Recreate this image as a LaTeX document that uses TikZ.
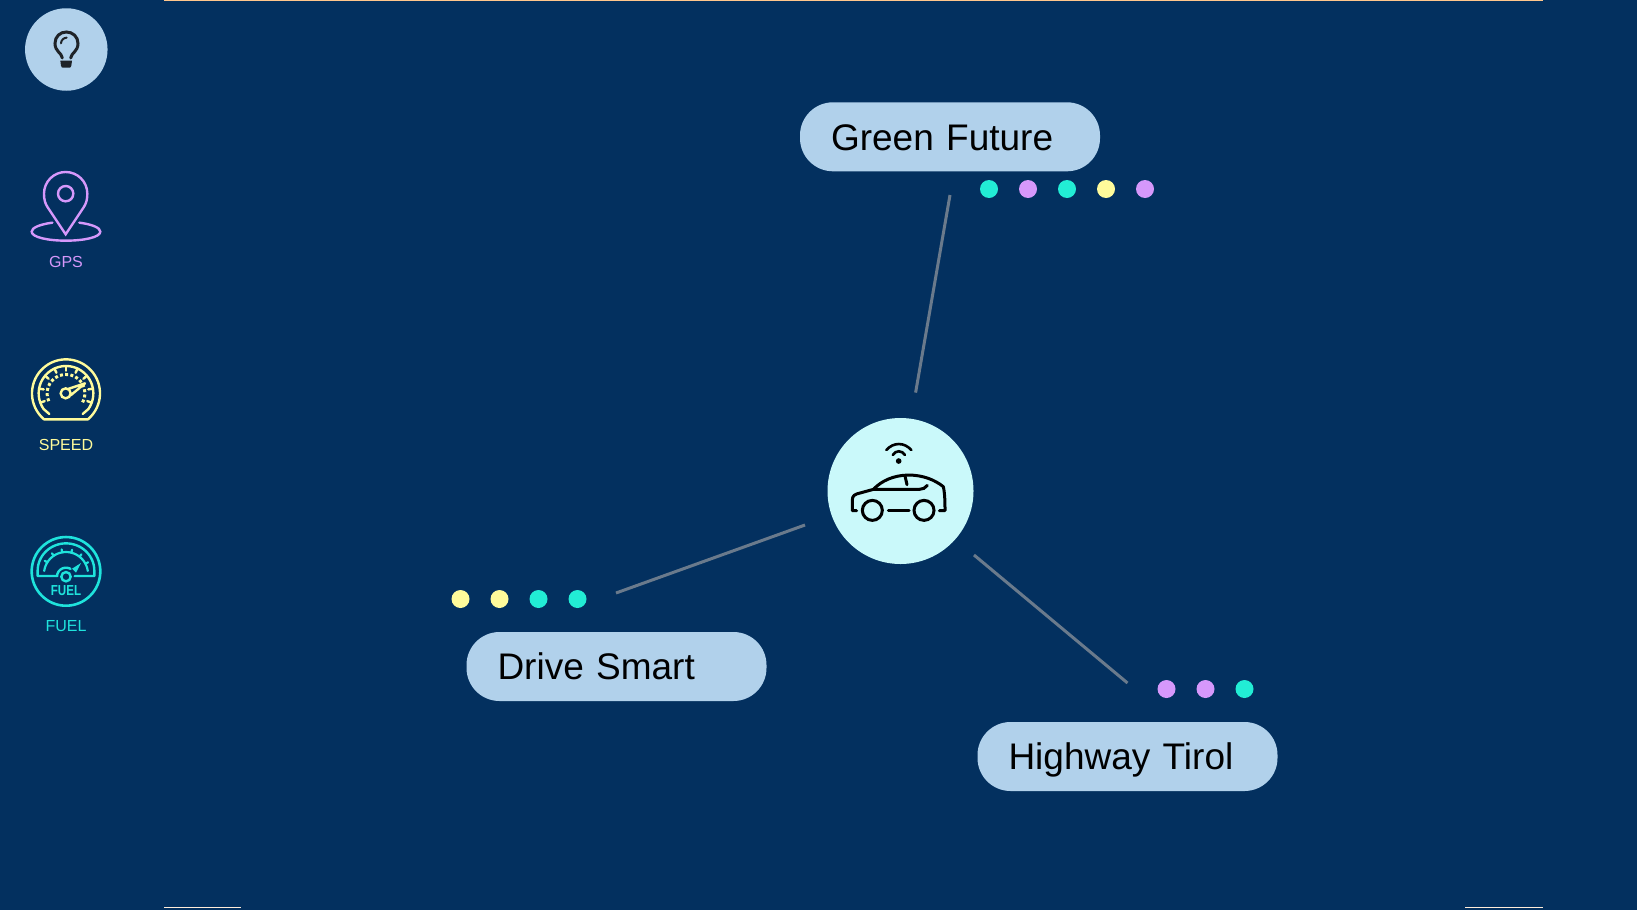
\documentclass[tikz,border=0pt]{standalone}
\usepackage{fontspec}
\setmainfont{Liberation Sans}
\definecolor{bgc}{HTML}{03305F}
\definecolor{pillc}{HTML}{B1D1EB}
\definecolor{hubc}{HTML}{CAF9FA}
\definecolor{tealc}{HTML}{22EDD5}
\definecolor{purpc}{HTML}{D698FB}
\definecolor{yelc}{HTML}{FFFB9B}
\definecolor{linkc}{HTML}{6A7A8C}
\definecolor{bulbc}{HTML}{1F2328}
\definecolor{fuelc}{HTML}{1FE3DC}
\tikzset{
 pill/.style={fill=pillc,rounded corners=33pt,minimum height=69pt,text width=238pt,text height=30pt,text depth=3.6pt,inner xsep=31pt,inner ysep=0pt,align=left,text=black,font=\fontsize{37}{44}\selectfont},
 dot/.style={circle,inner sep=0pt,minimum size=18pt},
 link/.style={draw=linkc,line width=3pt},
 iconlabel/.style={font=\fontsize{16}{19}\selectfont,inner sep=0pt},
 frameline/.style={line width=1pt},
}
\begin{document}
\begin{tikzpicture}[x=1pt,y=-1pt]
\fill[bgc] (0,0) rectangle (1637,910);
\useasboundingbox (0,0) rectangle (1637,910);
% frame lines
\coordinate (tl) at (164,0.6); \coordinate (tr) at (1543,0.6);
\coordinate (bl1) at (164,907.6); \coordinate (bl2) at (241,907.6);
\coordinate (br1) at (1465,907.6); \coordinate (br2) at (1543,907.6);
\draw[frameline,draw=orange!45!white] (tl) -- (tr);
\draw[frameline,draw=white!85!orange] (bl1) -- (bl2);
\draw[frameline,draw=white!85!orange] (br1) -- (br2);
% hub and pills
\node[circle,fill=hubc,minimum size=146pt,inner sep=0pt] (hub) at (900.5,491) {};
\node[pill] (green) at (950,136.8) {Green Future};
\node[pill] (drive) at (616.5,666.5) {Drive Smart};
\node[pill] (highway) at (1127.5,756.5) {Highway Tirol};
% connectors
\coordinate (g1) at (950,195); \coordinate (g2) at (915.6,392.6);
\coordinate (d1) at (805,525); \coordinate (d2) at (616,593);
\coordinate (h1) at (974,555); \coordinate (h2) at (1127.5,683);
\draw[link] (g1) -- (g2);
\draw[link] (d1) -- (d2);
\draw[link] (h1) -- (h2);
% dots
\node[dot,fill=tealc] (ga) at (989,189) {};
\node[dot,fill=purpc] (gb) at (1028,189) {};
\node[dot,fill=tealc] (gc) at (1067,189) {};
\node[dot,fill=yelc] (gd) at (1106,189) {};
\node[dot,fill=purpc] (ge) at (1145,189) {};
\node[dot,fill=yelc] (da) at (460.5,599) {};
\node[dot,fill=yelc] (db) at (499.5,599) {};
\node[dot,fill=tealc] (dc) at (538.5,599) {};
\node[dot,fill=tealc] (dd) at (577.5,599) {};
\node[dot,fill=purpc] (ha) at (1166.5,689) {};
\node[dot,fill=purpc] (hb) at (1205.5,689) {};
\node[dot,fill=tealc] (hc) at (1244.5,689) {};
% car icon
\begin{scope}[shift={(810pt,-400.7pt)},x=.33333pt,y=-.33333pt]
\draw[line width=3pt,line cap=round,line join=round,draw=black]
 (140,330) -- (127,330) -- (127,297) .. controls (127,285) and (135,280) .. (150,277) -- (190,266)
 .. controls (215,240) and (250,224) .. (295,223) .. controls (340,223) and (375,238) .. (400,258)
 .. controls (405,280) and (405,310) .. (405,330) -- (388,330);
\draw[line width=3pt,line cap=round,draw=black] (190,266) -- (328,266) .. controls (338,266) and (346,262) .. (352,254);
\draw[line width=3pt,line cap=round,draw=black] (285,226) -- (291,252);
\draw[line width=3pt,draw=black] (187,329) circle (30);
\draw[line width=3pt,draw=black] (342,329) circle (30);
\draw[line width=3pt,line cap=round,draw=black] (235,329) -- (297,329);
\fill[black] (266,181) circle (8.5);
\draw[line width=2.6pt,line cap=round,draw=black] (248,163) .. controls (258,148) and (275,148) .. (285,163);
\draw[line width=2.6pt,line cap=round,draw=black] (229,148) .. controls (250,124) and (283,124) .. (304,148);
\end{scope}
% bulb icon
\node[circle,fill=pillc,minimum size=82.5pt,inner sep=0pt] (bulbbg) at (66.3,49.5) {};
\begin{scope}[x=.33333pt,y=.33333pt,yscale=-1]
\draw[bulbc,line width=3pt,line cap=round]
 (187,174) .. controls (185,158) and (165,155) .. (165,130) .. controls (165,110) and (180,96) .. (199,96)
 .. controls (218,96) and (234,110) .. (234,130) .. controls (234,155) and (214,158) .. (212,174);
\draw[bulbc,line width=2pt,line cap=round] (183,130) .. controls (184,120) and (190,114) .. (200,113);
\fill[bulbc] (181,182) -- (216,182) -- (214,197) .. controls (213,202) and (211,203) .. (208,203) -- (189,203) .. controls (186,203) and (184,202) .. (183,197) -- cycle;
\end{scope}
% pin icon
\begin{scope}[x=.33333pt,y=.33333pt,yscale=-1]
\draw[purpc,line width=2.4pt,line join=miter]
 (197,703) -- (143,622) .. controls (135,610) and (132,598) .. (132,581)
 .. controls (132,545) and (161,516) .. (197,516) .. controls (233,516) and (262,545) .. (262,581)
 .. controls (262,598) and (259,610) .. (251,622) -- cycle;
\draw[purpc,line width=2.4pt] (197,581) circle (23);
\draw[purpc,line width=2.4pt,line cap=round] (157,668) .. controls (120,673) and (95,683) .. (95,695) .. controls (95,712) and (145,722) .. (198,722) .. controls (251,722) and (301,712) .. (301,695) .. controls (301,683) and (276,673) .. (238,668);
\end{scope}
\node[iconlabel,text=purpc] (gps) at (66,262) {GPS};
% speed icon
\begin{scope}[shift={(0pt,-340pt)},x=.33333pt,y=-.33333pt]
\draw[yelc,line width=2.4pt,line join=round,line cap=round]
 (264,238) -- (132,238) -- plot[domain=228:-48,samples=50] ({198+102*cos(\x)},{160-102*sin(\x)}) -- cycle;
\draw[yelc,line width=2.4pt,line cap=round,line join=round]
 (148,222) -- plot[domain=215:-35,samples=50] ({198+82*cos(\x)},{160-82*sin(\x)}) -- (248,222);
\foreach \a in {-20,10,40,65,90,115,140,170,200}
 \draw[yelc,line width=2.4pt,line cap=round] ({198+68*cos(\a)},{160-68*sin(\a)}) -- ({198+82*cos(\a)},{160-82*sin(\a)});
\foreach \a in {-24,-8,8,24,40,56,72,88,104,120,136,152,168,184,200}
 \draw[yelc,line width=3pt] ({198+52*cos(\a)},{160-52*sin(\a)}) -- ({198+61*cos(\a)},{160-61*sin(\a)});
\draw[yelc,line width=2.4pt] (197,160) circle (15);
\draw[yelc,line width=2.4pt,line join=round] (204,147) -- (255,130) -- (212,166);
\end{scope}
\node[iconlabel,text=yelc] (speed) at (66,444.5) {SPEED};
% fuel icon
\begin{scope}[shift={(0pt,-340.7pt)},x=.33333pt,y=-.33333pt]
\draw[fuelc,line width=2.6pt] (198,692) circle (103);
\draw[fuelc,line width=2.4pt,line join=round,line cap=round]
 (172,706) -- (113,706) -- (113,690) -- plot[domain=180:0,samples=40] ({198+85*cos(\x)},{690-82*sin(\x)}) -- (283,706) -- (224,706);
\draw[fuelc,line width=2.2pt,line cap=round] plot[domain=172:8,samples=40] ({198+66*cos(\x)},{700-66*sin(\x)});
\draw[fuelc,line width=2.4pt,line cap=round] plot[domain=175:60,samples=20] ({198+27*cos(\x)},{708-27*sin(\x)});
\draw[fuelc,line width=2.4pt] (198,708) circle (14);
\fill[fuelc] (216,684) -- (243,667) -- (228,696) -- cycle;
\foreach \a in {28,52,76,100,124,148}
 \draw[fuelc,line width=2.2pt,line cap=round] ({198+66*cos(\a)},{700-66*sin(\a)}) -- ({198+75*cos(\a)},{700-75*sin(\a)});
\end{scope}
\node[inner sep=0pt,text=fuelc,xscale=.8,font=\fontsize{14.5}{16}\selectfont\bfseries] (fueltxt) at (66,590.5) {FUEL};
\node[iconlabel,text=fuelc] (fuel) at (66,626.5) {FUEL};
\end{tikzpicture}
\end{document}
